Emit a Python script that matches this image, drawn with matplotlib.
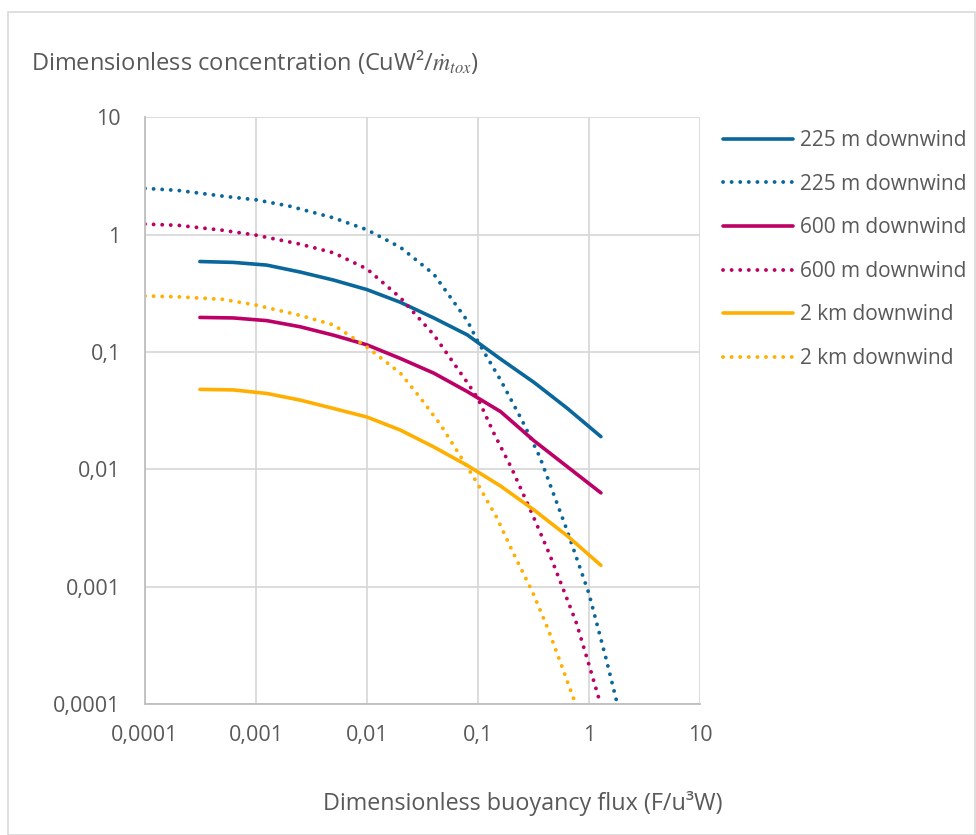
import matplotlib
matplotlib.use("Agg")
import matplotlib.pyplot as plt
from matplotlib.patches import Rectangle

plt.rcParams['font.family'] = ['Open Sans', 'DejaVu Sans']
plt.rcParams['mathtext.fontset'] = 'stix'

# Data ---------------------------------------------------------------
x_solid = [0.0003125, 0.000625, 0.00125, 0.0025, 0.005, 0.01, 0.02,
           0.04, 0.08, 0.16, 0.32, 0.64, 1.28]
c225_solid = [0.59, 0.58, 0.55, 0.48, 0.41, 0.34, 0.265, 0.195, 0.14,
              0.087, 0.055, 0.033, 0.019]
c600_solid = [0.197, 0.195, 0.185, 0.164, 0.139, 0.115, 0.088, 0.066,
              0.046, 0.031, 0.0175, 0.0105, 0.0063]
c2k_solid = [0.048, 0.0475, 0.0443, 0.0389, 0.033, 0.0279, 0.0216,
             0.0155, 0.0108, 0.0072, 0.0045, 0.0027, 0.00152]

x225_dot = [0.0001, 0.0002, 0.0005, 0.001, 0.002, 0.005, 0.01, 0.02, 0.04,
            0.08, 0.1, 0.16, 0.25, 0.36, 0.62, 1.0, 1.43, 1.8]
c225_dot = [2.48, 2.38, 2.13, 1.98, 1.75, 1.39, 1.1, 0.78, 0.46,
            0.185, 0.122, 0.0575, 0.026, 0.0128, 0.0032, 0.00087, 0.00024, 0.0001]

x600_dot = [0.0001, 0.0002, 0.0005, 0.001, 0.0025, 0.005, 0.01, 0.02, 0.04,
            0.08, 0.1, 0.14, 0.2, 0.31, 0.44, 0.6, 0.77, 0.98, 1.27]
c600_dot = [1.23, 1.2, 1.09, 0.99, 0.83, 0.70, 0.51, 0.29, 0.14,
            0.055, 0.040, 0.020, 0.0103, 0.0041, 0.0019, 0.0009, 0.00049, 0.00023, 0.0001]

x2k_dot = [0.0001, 0.0002, 0.0005, 0.001, 0.0025, 0.005, 0.01, 0.02, 0.03,
           0.046, 0.073, 0.097, 0.147, 0.21, 0.31, 0.43, 0.54, 0.73, 0.77]
c2k_dot = [0.30, 0.295, 0.281, 0.251, 0.205, 0.17, 0.11, 0.066, 0.041,
           0.024, 0.012, 0.0078, 0.0039, 0.0019, 0.0009, 0.00043, 0.00024, 0.00011, 0.0001]

tick_values = [0.0001, 0.001, 0.01, 0.1, 1, 10]
tick_labels = ["0,0001", "0,001", "0,01", "0,1", "1", "10"]

labels = ["225 m downwind", "225 m downwind", "600 m downwind",
          "600 m downwind", "2 km downwind", "2 km downwind"]

# Styling --------------------------------------------------------------
BLUE = "#0A679C"
MAGENTA = "#BC0066"
ORANGE = "#FFAF00"
TEXT = "#595959"
GRID = "#D9D9D9"

W, H = 976, 835
fig = plt.figure(figsize=(W / 100, H / 100), dpi=100)
fig.patch.set_facecolor("white")

# chart-area border
fig.patches.append(Rectangle((8 / W, 0), 1 - 9 / W, 1 - 12 / H,
                             transform=fig.transFigure, fill=False,
                             edgecolor="#D9D9D9", lw=1.2))

left, right, top, bottom = 145, 700, 117.3, 704
ax = fig.add_axes([left / W, 1 - bottom / H, (right - left) / W, (bottom - top) / H])
ax.set_xscale("log")
ax.set_yscale("log")
ax.set_xlim(1e-4, 10)
ax.set_ylim(1e-4, 10)

solid_kw = dict(lw=2.6, solid_capstyle="round", solid_joinstyle="round")
dot_kw = dict(lw=2.8, linestyle=(0, (0.01, 2.2)), dash_capstyle="round")

ax.plot(x_solid, c225_solid, color=BLUE, label=labels[0], **solid_kw)
ax.plot(x225_dot, c225_dot, color=BLUE, label=labels[1], **dot_kw)
ax.plot(x_solid, c600_solid, color=MAGENTA, label=labels[2], **solid_kw)
ax.plot(x600_dot, c600_dot, color=MAGENTA, label=labels[3], **dot_kw)
ax.plot(x_solid, c2k_solid, color=ORANGE, label=labels[4], **solid_kw)
ax.plot(x2k_dot, c2k_dot, color=ORANGE, label=labels[5], **dot_kw)

ax.set_xticks(tick_values)
ax.set_xticklabels(tick_labels)
ax.set_yticks(tick_values)
ax.set_yticklabels(tick_labels)
ax.minorticks_off()
ax.tick_params(axis="both", length=0, labelsize=15.5, colors=TEXT)
ax.tick_params(axis="y", pad=17.5)
ax.tick_params(axis="x", pad=15)
ax.grid(True, which="major", color=GRID, lw=1.3)
ax.set_axisbelow(True)
for side in ("top", "right"):
    ax.spines[side].set_visible(False)
for side in ("left", "bottom"):
    ax.spines[side].set_color("#BFBFBF")
    ax.spines[side].set_linewidth(1.3)

fig.text(31 / W, 1 - 62 / H,
         "Dimensionless concentration (CuW²/$\\dot{m}_{tox}$)",
         ha="left", va="center", fontsize=17, color=TEXT)
fig.text(523 / W, 1 - 803 / H, "Dimensionless buoyancy flux (F/u³W)",
         ha="center", va="center", fontsize=16.8, color=TEXT)

leg = ax.legend(loc="upper left", bbox_to_anchor=(722.7 / W, 1 - 130 / H),
                bbox_transform=fig.transFigure, frameon=False, fontsize=15,
                handlelength=3.36, handletextpad=0.35, labelspacing=1.085,
                borderpad=0, borderaxespad=0)
for t in leg.get_texts():
    t.set_color(TEXT)

fig.savefig("out.png", dpi=100, facecolor="white")
